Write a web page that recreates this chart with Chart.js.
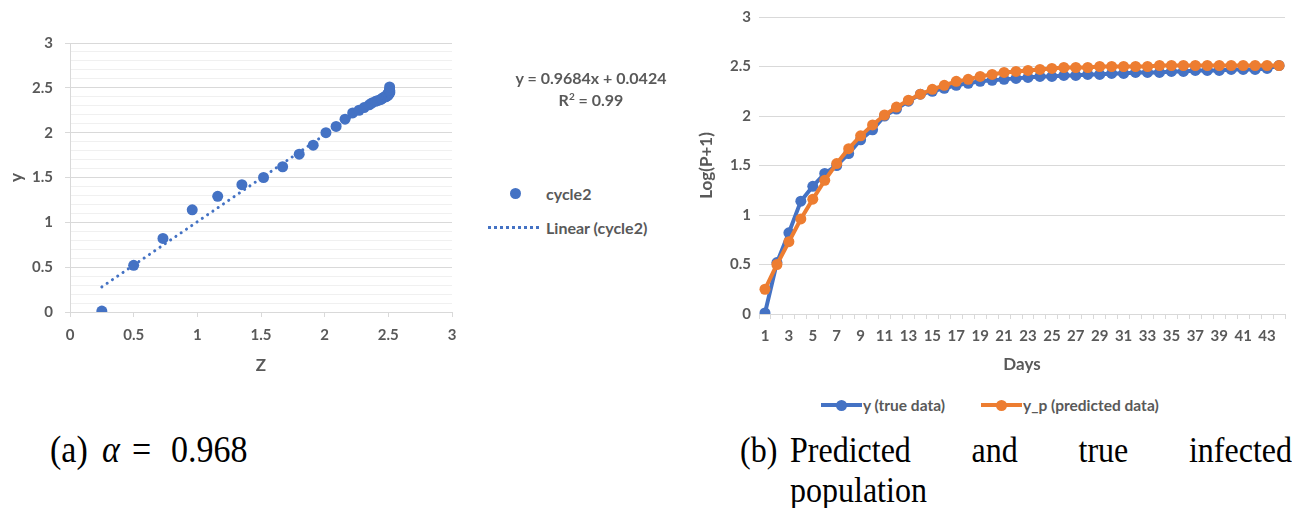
<!DOCTYPE html>
<html>
<head>
<meta charset="utf-8">
<script src="https://cdn.jsdelivr.net/npm/chart.js@4/dist/chart.umd.min.js"></script>
<style>
  body { margin:0; background:#fff; width:1306px; height:508px; position:relative; overflow:hidden; font-family:Lato, 'Open Sans', sans-serif; }
  canvas { position:absolute; }
  .lbl { position:absolute; color:#595959; font-weight:bold; white-space:nowrap; font-family:Lato, sans-serif; }
  .cap { position:absolute; font-family:'Liberation Serif','Times New Roman',serif; font-size:32px; color:#000; white-space:nowrap; line-height:38px; transform:scaleY(1.12); transform-origin:50% 50%; }
  .dot { position:absolute; border-radius:50%; }
</style>
</head>
<body>
<canvas id="c1" width="470" height="400" style="left:0;top:0;"></canvas>
<canvas id="c2" width="616" height="380" style="left:690px;top:0;"></canvas>

<!-- left chart: trendline equation and legend -->
<div class="lbl" style="left:491px;top:68px;width:200px;text-align:center;font-size:16px;line-height:20px;">y = 0.9684x + 0.0424</div>
<div class="lbl" style="left:491px;top:90px;width:200px;text-align:center;font-size:16px;line-height:20px;">R<sup style="font-size:10px;line-height:0;">2</sup> = 0.99</div>
<div class="dot" style="left:510px;top:188px;width:11px;height:11px;background:#4472C4;"></div>
<div class="lbl" style="left:546px;top:184px;font-size:16px;line-height:20px;">cycle2</div>
<div style="position:absolute;left:488px;top:226px;width:51px;height:0;border-top:3px dotted #4472C4;"></div>
<div class="lbl" style="left:546px;top:218px;font-size:16px;line-height:20px;">Linear (cycle2)</div>

<!-- right chart legend -->
<div style="position:absolute;left:821px;top:403px;width:41px;height:4px;background:#4472C4;"></div>
<div class="dot" style="left:836px;top:400px;width:11px;height:11px;background:#4472C4;"></div>
<div class="lbl" style="left:863px;top:396px;font-size:15.5px;line-height:18px;">y (true data)</div>
<div style="position:absolute;left:981px;top:403px;width:41px;height:4px;background:#ED7D31;"></div>
<div class="dot" style="left:996px;top:400px;width:11px;height:11px;background:#ED7D31;"></div>
<div class="lbl" style="left:1023px;top:396px;font-size:15.5px;line-height:18px;">y_p (predicted data)</div>

<!-- captions -->
<div class="cap" style="left:50px;top:431px;font-size:34px;">(a)</div>
<div class="cap" style="left:102px;top:431px;font-size:34px;"><i>α</i></div>
<div class="cap" style="left:132px;top:431px;font-size:34px;">=</div>
<div class="cap" style="left:171px;top:431px;font-size:34px;">0.968</div>
<div class="cap" style="left:740px;top:431px;">(b)</div>
<div class="cap" style="left:790px;top:431px;width:502px;text-align:justify;text-align-last:justify;">Predicted and true infected</div>
<div class="cap" style="left:790px;top:471px;">population</div>

<script>
// ---- data ----
const days = ['1','2','3','4','5','6','7','8','9','10','11','12','13','14','15','16','17','18','19','20','21','22','23','24','25','26','27','28','29','30','31','32','33','34','35','36','37','38','39','40','41','42','43','44'];
const trueY = [0.01,0.52,0.82,1.14,1.29,1.42,1.50,1.62,1.76,1.86,2.00,2.07,2.15,2.22,2.25,2.28,2.31,2.33,2.35,2.36,2.37,2.38,2.39,2.40,2.40,2.41,2.41,2.42,2.42,2.43,2.43,2.44,2.44,2.44,2.45,2.45,2.46,2.46,2.46,2.47,2.47,2.47,2.48,2.51];
const predY = [0.25,0.50,0.73,0.96,1.16,1.35,1.52,1.67,1.80,1.91,2.01,2.09,2.16,2.22,2.27,2.31,2.35,2.37,2.40,2.42,2.44,2.45,2.46,2.47,2.48,2.49,2.49,2.49,2.50,2.50,2.50,2.50,2.50,2.51,2.51,2.51,2.51,2.51,2.51,2.51,2.51,2.51,2.51,2.51];
// scatter (a): Z = predicted values, y = true values
const zVals = predY;
const yVals = trueY;
// linear trendline endpoints
const trendX = [0.25, 2.51];
const trendY = [0.28, 2.47];
const tickVals = [0, 0.5, 1, 1.5, 2, 2.5, 3];

const GRAY = '#595959';
const GRID = '#d9d9d9';
const isMajor = v => Math.abs(v * 2 - Math.round(v * 2)) < 1e-6;
const fmt = v => String(Math.round(v * 10) / 10);
const F = (size) => ({ family: 'Lato', size: size, weight: 'bold' });

// ---- chart (a) ----
new Chart(document.getElementById('c1'), {
  type: 'scatter',
  data: {
    datasets: [
      {
        label: 'cycle2',
        data: zVals.map((z, i) => ({ x: z, y: yVals[i] })),
        backgroundColor: '#4472C4',
        borderColor: '#4472C4',
        pointRadius: 5.5,
        pointBorderWidth: 0,
        order: 0
      },
      {
        type: 'line',
        label: 'Linear (cycle2)',
        data: trendX.map((x, i) => ({ x: x, y: trendY[i] })),
        borderColor: '#4472C4',
        borderWidth: 3,
        borderDash: [0.1, 6.3],
        borderCapStyle: 'round',
        pointRadius: 0,
        fill: false,
        order: 1
      }
    ]
  },
  options: {
    responsive: false,
    animation: false,
    layout: { padding: { left: 0, right: 18, top: 43, bottom: 0 } },
    plugins: { legend: { display: false }, tooltip: { enabled: false } },
    scales: {
      x: {
        type: 'linear', min: 0, max: 3,
        afterBuildTicks: s => { s.ticks = tickVals.map(v => ({ value: v })); },
        ticks: { callback: v => fmt(v), padding: 9, color: GRAY, font: F(15), maxRotation: 0 },
        grid: { drawOnChartArea: false, drawTicks: true, tickLength: 5, color: GRID },
        border: { display: true, color: GRID },
        title: { display: true, text: 'Z', color: GRAY, font: F(17), padding: { top: 0, bottom: 24 } },
        afterFit: s => { s.height = 88; }
      },
      y: {
        type: 'linear', min: 0, max: 3,
        ticks: { stepSize: 0.1, autoSkip: false, padding: 12, color: GRAY, font: F(15),
                 callback: v => isMajor(v) ? fmt(v) : '' },
        grid: {
          color: c => isMajor(c.tick.value) ? GRID : '#f0f0f0',
          tickColor: c => isMajor(c.tick.value) ? GRID : 'rgba(0,0,0,0)',
          tickLength: 5
        },
        border: { display: true, color: GRID },
        title: { display: true, text: 'y', color: GRAY, font: F(17), padding: { top: 6, bottom: 0 } },
        afterFit: s => { s.width = 70; }
      }
    }
  }
});

// ---- chart (b) ----
new Chart(document.getElementById('c2'), {
  type: 'line',
  data: {
    labels: days,
    datasets: [
      {
        label: 'y (true data)',
        data: trueY,
        borderColor: '#4472C4', backgroundColor: '#4472C4',
        borderWidth: 4, pointRadius: 5.5, pointBorderWidth: 0, tension: 0, fill: false,
        order: 1
      },
      {
        label: 'y_p (predicted data)',
        data: predY,
        borderColor: '#ED7D31', backgroundColor: '#ED7D31',
        borderWidth: 4, pointRadius: 5.5, pointBorderWidth: 0, tension: 0, fill: false,
        order: 0
      }
    ]
  },
  options: {
    responsive: false,
    animation: false,
    layout: { padding: { left: 0, right: 21, top: 14, bottom: 0 } },
    plugins: { legend: { display: false }, tooltip: { enabled: false } },
    scales: {
      x: {
        type: 'category', offset: true,
        ticks: { autoSkip: false, maxRotation: 0, minRotation: 0, padding: 8, color: GRAY, font: F(15),
                 callback: (v, i) => (i % 2 === 0 ? days[i] : '') },
        grid: { offset: true, drawOnChartArea: false, drawTicks: true, tickLength: 5, color: GRID },
        border: { display: true, color: GRID },
        title: { display: true, text: 'Days', color: GRAY, font: F(17), padding: { top: 0, bottom: 5 } },
        afterFit: s => { s.height = 66; }
      },
      y: {
        min: 0, max: 3,
        ticks: { stepSize: 0.5, padding: 8, color: GRAY, font: F(15), callback: v => fmt(v) },
        grid: { color: GRID, drawTicks: false },
        border: { display: false },
        title: { display: true, text: 'Log(P+1)', color: GRAY, font: F(17), padding: { top: 6, bottom: 0 } },
        afterFit: s => { s.width = 69; }
      }
    }
  }
});
</script>
</body>
</html>
